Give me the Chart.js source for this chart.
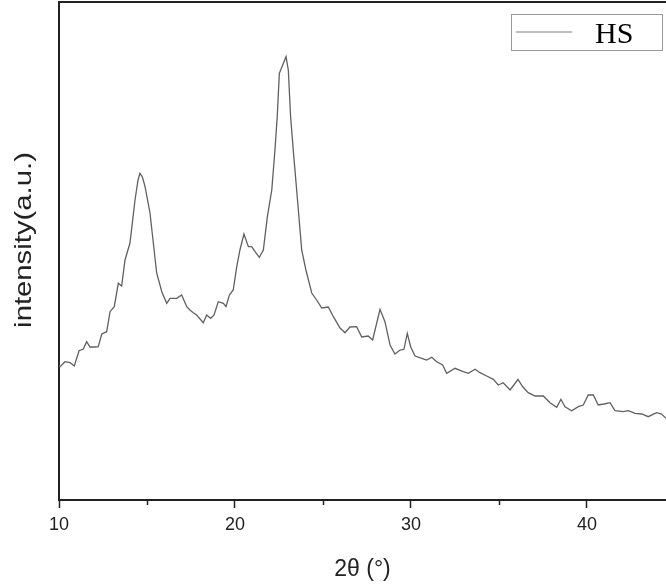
<!DOCTYPE html>
<html>
<head>
<meta charset="utf-8">
<script src="https://cdn.jsdelivr.net/npm/chart.js@4"></script>
<style>
  html, body { margin: 0; padding: 0; background: #fff; }
  #wrap { width: 666px; height: 587px; position: relative; }
</style>
</head>
<body>
<div id="wrap"><canvas id="c"></canvas></div>
<script>
// 2θ positions (degrees)
const twoTheta = [
  10.00, 10.06, 10.34, 10.63, 10.87, 11.14, 11.38, 11.57, 11.76, 12.05,
  12.23, 12.43, 12.71, 12.90, 13.14, 13.37, 13.56, 13.75, 14.03, 14.32,
  14.49, 14.60, 14.74, 14.89, 15.17, 15.36, 15.55, 15.84, 16.12, 16.31,
  16.69, 16.97, 17.26, 17.44, 17.63, 17.82, 18.20, 18.39, 18.62, 18.81,
  19.05, 19.34, 19.49, 19.68, 19.90, 20.10, 20.28, 20.51, 20.76, 20.95,
  21.14, 21.38, 21.61, 21.84, 22.09, 22.27, 22.40, 22.52, 22.71, 22.90,
  23.03, 23.16, 23.31, 23.47, 23.60, 23.79, 24.03, 24.36, 24.64, 24.93,
  25.30, 25.59, 25.97, 26.25, 26.53, 26.91, 27.20, 27.57, 27.82, 28.24,
  28.52, 28.81, 29.09, 29.38, 29.60, 29.79, 29.98, 30.23, 30.61, 30.89,
  31.18, 31.46, 31.80, 32.03, 32.50, 32.97, 33.26, 33.64, 33.92, 34.30,
  34.68, 34.96, 35.24, 35.63, 36.08, 36.36, 36.66, 37.05, 37.52, 37.90,
  38.28, 38.52, 38.75, 39.13, 39.51, 39.79, 40.07, 40.36, 40.64, 40.97,
  41.31, 41.59, 42.06, 42.35, 42.73, 43.11, 43.48, 43.96, 44.24, 44.49
];
// HS intensity (a.u.)
const intensityHS = [
  135, 133.3, 138.3, 137.3, 134, 149.3, 151, 158.3, 153, 153,
  153.3, 166, 168.3, 188.3, 193.3, 216.7, 214, 240, 256.7, 300,
  320, 326.7, 323, 313.3, 287, 257, 227, 208.3, 196.7, 201.7,
  201.7, 205, 193.3, 190, 187.3, 185, 177.3, 185, 181.7, 185,
  198.3, 196.7, 193.3, 205, 210, 233.3, 250, 266, 253.3, 253.3,
  248.3, 242.7, 250, 283.3, 310, 350, 383.3, 426.7, 435, 443.3,
  430, 383.3, 350, 317, 290, 250, 230, 207, 200, 192,
  193, 183.3, 172, 167.3, 173, 173.3, 163, 164, 160, 190.7,
  178.3, 155, 146, 150, 150.7, 166.7, 153.3, 144, 141.7, 140,
  142.7, 138.3, 135, 126.7, 131.7, 128.3, 126.7, 130.7, 127.3, 124,
  120.7, 115, 117.3, 110, 120.5, 113, 107.3, 104, 104, 97.3,
  92.7, 100.7, 93.3, 89.3, 93.3, 95, 105, 105, 95, 96,
  97.3, 89.3, 88.3, 89.3, 86.7, 86, 83.3, 87.3, 86, 81.7
];
const majorTicks = [10, 20, 30, 40];
const minorTicks = [15, 25, 35];
const seriesLabel = 'HS';
const xTitle = '2θ (°)';
const yTitle = 'intensity(a.u.)';

const points = twoTheta.map((x, i) => ({ x: x, y: intensityHS[i] }));

const framePlugin = {
  id: 'frame',
  afterDraw(chart) {
    const ctx = chart.ctx;
    const a = chart.chartArea;
    const xs = chart.scales.x;
    ctx.save();
    // top border
    ctx.strokeStyle = '#222';
    ctx.lineWidth = 2;
    ctx.beginPath();
    ctx.moveTo(a.left - 1, a.top);
    ctx.lineTo(a.right, a.top);
    ctx.stroke();
    // minor ticks
    ctx.lineWidth = 1.5;
    minorTicks.forEach(v => {
      const px = Math.round(xs.getPixelForValue(v)) + 0.5;
      ctx.beginPath();
      ctx.moveTo(px, a.bottom);
      ctx.lineTo(px, a.bottom + 5);
      ctx.stroke();
    });
    // y axis title (stretched along its direction like the original)
    ctx.save();
    ctx.translate(24, 240);
    ctx.rotate(-Math.PI / 2);
    ctx.scale(1.22, 1);
    ctx.fillStyle = '#222';
    ctx.font = '24px "Liberation Sans", Arial, sans-serif';
    ctx.textAlign = 'center';
    ctx.textBaseline = 'middle';
    ctx.fillText(yTitle, 0, 0);
    ctx.restore();
    // legend box
    const ds = chart.data.datasets[0];
    ctx.strokeStyle = '#9a9a9a';
    ctx.lineWidth = 1;
    ctx.strokeRect(511.5, 14.5, 151, 36);
    ctx.strokeStyle = '#a8a8a8';
    ctx.lineWidth = 1.5;
    ctx.beginPath();
    ctx.moveTo(516, 32);
    ctx.lineTo(572, 32);
    ctx.stroke();
    ctx.fillStyle = '#000';
    ctx.font = '30px "Liberation Serif", "Times New Roman", serif';
    ctx.textBaseline = 'alphabetic';
    ctx.textAlign = 'left';
    ctx.fillText(ds.label, 595, 43);
    ctx.restore();
  }
};

new Chart(document.getElementById('c'), {
  type: 'line',
  data: {
    datasets: [{
      label: seriesLabel,
      data: points,
      borderColor: '#606060',
      borderWidth: 1.3,
      pointRadius: 0,
      tension: 0,
      fill: false
    }]
  },
  options: {
    responsive: true,
    maintainAspectRatio: false,
    animation: false,
    layout: { padding: { top: 2, right: 0, left: 0, bottom: 0 } },
    plugins: { legend: { display: false }, tooltip: { enabled: false } },
    scales: {
      x: {
        type: 'linear',
        min: 10,
        max: 44.49,
        afterFit: s => { s.height = 87; },
        afterBuildTicks: s => { s.ticks = majorTicks.map(v => ({ value: v })); },
        ticks: {
          includeBounds: false,
          color: '#222',
          padding: 6,
          maxRotation: 0,
          font: { family: '"Liberation Sans", Arial, sans-serif', size: 18 },
          callback: v => String(v)
        },
        grid: {
          drawOnChartArea: false,
          drawTicks: true,
          tickLength: 8,
          tickColor: '#222',
          tickWidth: 1.5
        },
        border: { display: true, color: '#222', width: 2 },
        title: {
          display: true,
          text: xTitle,
          color: '#222',
          font: { family: '"Liberation Sans", Arial, sans-serif', size: 23 },
          padding: { top: 0, bottom: 4 }
        }
      },
      y: {
        type: 'linear',
        min: 0,
        max: 498,
        afterFit: s => { s.width = 59; },
        ticks: { display: false },
        grid: { display: false, drawTicks: false },
        border: { display: true, color: '#222', width: 2 },
        title: { display: false, text: yTitle }
      }
    }
  },
  plugins: [framePlugin]
});
</script>
</body>
</html>
